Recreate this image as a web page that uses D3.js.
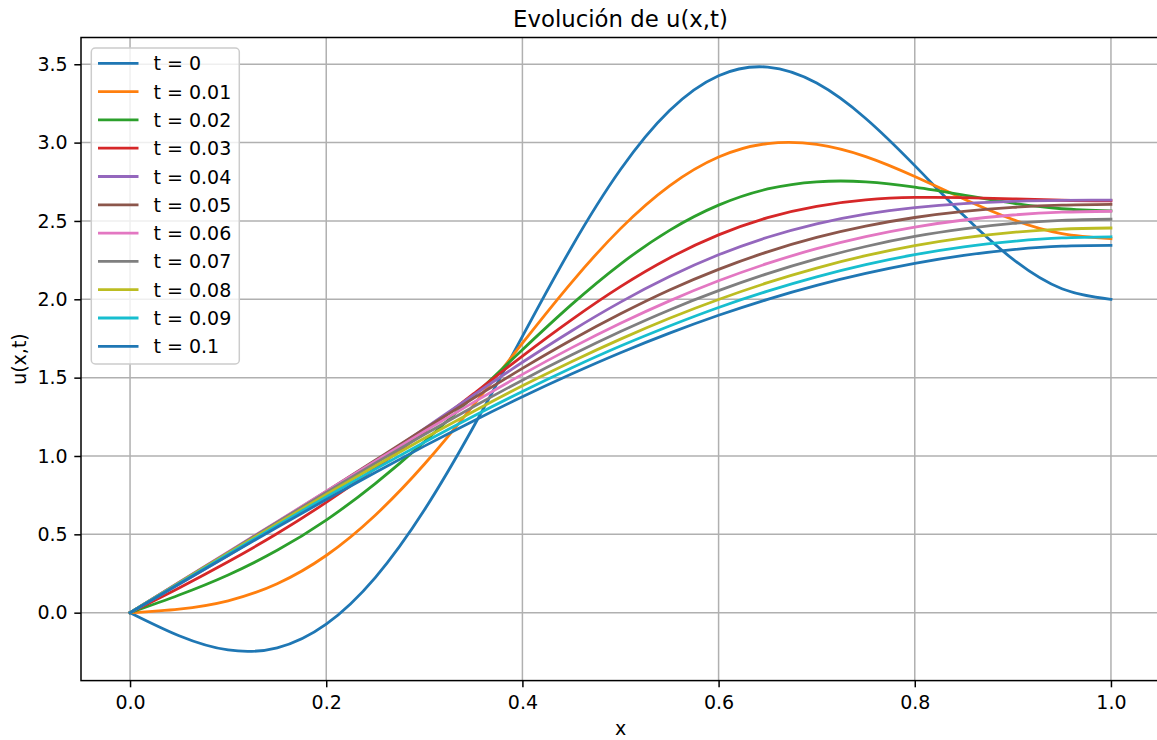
<!DOCTYPE html>
<html><head><meta charset="utf-8">
<script src="https://cdn.jsdelivr.net/npm/d3@7"></script>
<style>body{margin:0;background:#fff}svg{display:block}text{font-family:"DejaVu Sans",sans-serif}</style>
</head><body>
<svg id="c" width="1157" height="740"></svg>
<script>
const xs = [0,0.05,0.1,0.15,0.2,0.25,0.3,0.35,0.4,0.45,0.5,0.55,0.6,0.65,0.7,0.75,0.8,0.85,0.9,0.95,1.0];
const labels = ["t = 0","t = 0.01","t = 0.02","t = 0.03","t = 0.04","t = 0.05","t = 0.06","t = 0.07","t = 0.08","t = 0.09","t = 0.1"];
const colors = ["#1f77b4","#ff7f0e","#2ca02c","#d62728","#9467bd","#8c564b","#e377c2","#7f7f7f","#bcbd22","#17becf","#1f77b4"];
const u_t000 = [0,-0.147,-0.238,-0.224,-0.073,0.224,0.655,1.185,1.763,2.331,2.828,3.205,3.427,3.482,3.380,3.154,2.853,2.534,2.256,2.067,2.000];
const u_t001 = [0,0.023,0.076,0.185,0.365,0.622,0.947,1.323,1.720,2.107,2.451,2.724,2.908,2.994,2.989,2.911,2.784,2.640,2.509,2.419,2.387];
const u_t002 = [0,0.113,0.241,0.398,0.591,0.824,1.090,1.381,1.678,1.966,2.225,2.440,2.601,2.704,2.750,2.750,2.716,2.665,2.614,2.578,2.564];
const u_t003 = [0,0.158,0.325,0.505,0.704,0.921,1.154,1.396,1.638,1.869,2.081,2.264,2.411,2.521,2.593,2.634,2.650,2.649,2.641,2.632,2.629];
const u_t004 = [0,0.181,0.365,0.556,0.755,0.962,1.174,1.388,1.598,1.798,1.982,2.145,2.284,2.396,2.482,2.544,2.585,2.611,2.625,2.631,2.633];
const u_t005 = [0,0.191,0.382,0.577,0.774,0.973,1.172,1.368,1.559,1.740,1.907,2.059,2.191,2.303,2.395,2.467,2.522,2.561,2.587,2.601,2.606];
const u_t006 = [0,0.194,0.387,0.581,0.775,0.967,1.157,1.342,1.521,1.690,1.847,1.990,2.118,2.229,2.323,2.400,2.461,2.506,2.538,2.556,2.562];
const u_t007 = [0,0.193,0.385,0.577,0.767,0.954,1.137,1.314,1.484,1.644,1.794,1.932,2.055,2.164,2.258,2.337,2.401,2.449,2.484,2.504,2.511];
const u_t008 = [0,0.190,0.380,0.568,0.754,0.936,1.113,1.284,1.448,1.602,1.746,1.879,1.999,2.106,2.199,2.278,2.342,2.392,2.427,2.448,2.455];
const u_t009 = [0,0.187,0.373,0.557,0.739,0.916,1.088,1.254,1.412,1.562,1.702,1.830,1.948,2.052,2.143,2.221,2.285,2.335,2.370,2.392,2.399];
const u_t010 = [0,0.183,0.365,0.545,0.722,0.895,1.063,1.224,1.378,1.523,1.659,1.784,1.898,2.000,2.089,2.165,2.229,2.280,2.317,2.339,2.344];
const seriesValues = [u_t000,u_t001,u_t002,u_t003,u_t004,u_t005,u_t006,u_t007,u_t008,u_t009,u_t010];
const xTicks = [0,0.2,0.4,0.6,0.8,1.0];
const yTicks = [0,0.5,1.0,1.5,2.0,2.5,3.0,3.5];

const L=81, R=1160, T=37.5, B=680.6;
const svg = d3.select("#c");
const x = d3.scaleLinear().domain([-0.05,1.05]).range([L,R]);
const y = d3.scaleLinear().domain([-0.4335,3.6708]).range([B,T]);

// grid
const grid = svg.append("g");
grid.selectAll("line.vx").data(xTicks).enter().append("line")
  .attr("x1",d=>x(d)).attr("x2",d=>x(d)).attr("y1",T).attr("y2",B)
  .attr("stroke","#b0b0b0").attr("stroke-width",1.5);
grid.selectAll("line.hy").data(yTicks).enter().append("line")
  .attr("y1",d=>y(d)).attr("y2",d=>y(d)).attr("x1",L).attr("x2",R)
  .attr("stroke","#b0b0b0").attr("stroke-width",1.5);

// lines
svg.append("clipPath").attr("id","clip").append("rect").attr("x",L).attr("y",T).attr("width",R-L).attr("height",B-T);
const line = d3.line().x((d,i)=>x(xs[i])).y(d=>y(d)).curve(d3.curveNatural);
svg.append("g").attr("clip-path","url(#clip)").selectAll("path").data(seriesValues).enter().append("path")
  .attr("d",d=>line(d)).attr("fill","none").attr("stroke",(d,i)=>colors[i])
  .attr("stroke-width",2.8).attr("stroke-linejoin","round").attr("stroke-linecap","square");

// axes
const fs = 19;
const gx = svg.append("g").attr("transform",`translate(0,${B})`)
  .call(d3.axisBottom(x).tickValues(xTicks).tickFormat(d3.format(".1f")).tickSize(6.7).tickPadding(6.7));
const gy = svg.append("g").attr("transform",`translate(${L},0)`)
  .call(d3.axisLeft(y).tickValues(yTicks).tickFormat(d3.format(".1f")).tickSize(6.7).tickPadding(6.7));
[gx,gy].forEach(g=>{
  g.select(".domain").remove();
  g.selectAll(".tick line").attr("stroke","#000").attr("stroke-width",1.5);
  g.selectAll(".tick text").attr("fill","#000").style("font-size",fs+"px").style("font-family","DejaVu Sans");
});
gx.selectAll(".tick text").attr("dy","0.78em");

// spines
svg.append("rect").attr("x",L).attr("y",T).attr("width",R-L).attr("height",B-T)
  .attr("fill","none").attr("stroke","#000").attr("stroke-width",1.5);

// title and labels
svg.append("text").attr("x",(L+R)/2).attr("y",27).attr("text-anchor","middle")
  .style("font-size","22.8px").text("Evolución de u(x,t)");
svg.append("text").attr("x",(L+R)/2).attr("y",735).attr("text-anchor","middle")
  .style("font-size",fs+"px").text("x");
svg.append("text").attr("transform",`translate(26,${(T+B)/2}) rotate(-90)`).attr("text-anchor","middle")
  .style("font-size",fs+"px").text("u(x,t)");

// legend
const lg = svg.append("g");
lg.append("rect").attr("x",91.3).attr("y",48).attr("width",148).attr("height",316).attr("rx",4)
  .attr("fill","#fff").attr("fill-opacity",0.8).attr("stroke","#cccccc").attr("stroke-width",1.5);
const items = lg.selectAll("g.item").data(labels).enter().append("g")
  .attr("transform",(d,i)=>`translate(0,${63.3+i*28.3})`);
items.append("line").attr("x1",98).attr("x2",138.5).attr("y1",0).attr("y2",0)
  .attr("stroke",(d,i)=>colors[i]).attr("stroke-width",2.8);
items.append("text").attr("x",153.5).attr("y",7).style("font-size",fs+"px").text(d=>d);
</script>
</body></html>
